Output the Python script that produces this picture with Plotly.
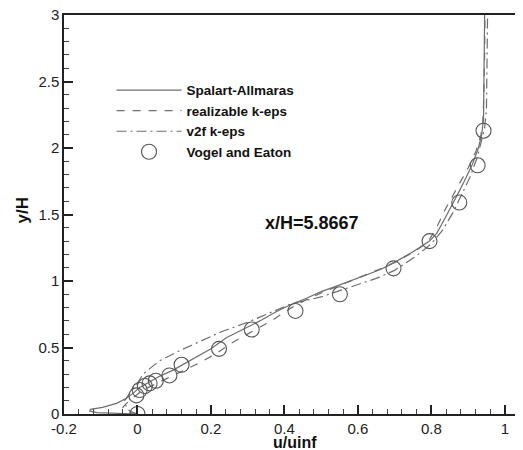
import plotly.graph_objects as go

# Spalart-Allmaras (solid)
sa_u = [0, -0.07, -0.11, -0.13, -0.128, -0.095, -0.057, -0.03, -0.012, 0.006, 0.034, 0.061,
        0.097, 0.133, 0.165, 0.2, 0.243, 0.29, 0.333, 0.375, 0.415, 0.46, 0.5, 0.54, 0.58,
        0.62, 0.66, 0.7, 0.75, 0.795, 0.815, 0.835, 0.855, 0.875, 0.895, 0.912, 0.928,
        0.937, 0.942, 0.943, 0.944, 0.945]
sa_y = [0, 0.005, 0.01, 0.022, 0.035, 0.05, 0.08, 0.118, 0.155, 0.2, 0.243, 0.285,
        0.33, 0.385, 0.435, 0.49, 0.575, 0.64, 0.7, 0.765, 0.82, 0.87, 0.92, 0.96, 1.0,
        1.04, 1.085, 1.14, 1.22, 1.30, 1.36, 1.46, 1.56, 1.67, 1.78, 1.88, 2.0,
        2.1, 2.22, 2.4, 2.7, 3.0]

# realizable k-eps (dashed)
rke_u = [0, -0.02, -0.035, -0.04, -0.03, -0.012, 0.005, 0.03, 0.06, 0.09, 0.12, 0.165,
         0.215, 0.26, 0.315, 0.37, 0.42, 0.46, 0.5, 0.54, 0.58, 0.62, 0.66, 0.7, 0.75,
         0.79, 0.812, 0.84, 0.87, 0.9, 0.922, 0.935, 0.94, 0.943, 0.945, 0.946]
rke_y = [0, 0.01, 0.03, 0.05, 0.08, 0.12, 0.16, 0.2, 0.24, 0.275, 0.315, 0.38,
         0.455, 0.54, 0.625, 0.71, 0.8, 0.86, 0.91, 0.955, 1.0, 1.04, 1.09, 1.14, 1.215,
         1.29, 1.39, 1.55, 1.7, 1.85, 1.98, 2.1, 2.2, 2.4, 2.7, 3.0]

# v2f k-eps (dash-dot)
v2f_u = [0, -0.02, -0.03, -0.035, -0.02, 0.0, 0.015, 0.06, 0.11, 0.17, 0.23, 0.3,
         0.36, 0.42, 0.5, 0.55, 0.6, 0.65, 0.7, 0.76, 0.8, 0.83, 0.86, 0.88, 0.905,
         0.925, 0.935, 0.945, 0.95, 0.952, 0.953]
v2f_y = [0, 0.02, 0.05, 0.1, 0.16, 0.23, 0.3, 0.4, 0.47, 0.545, 0.62, 0.69,
         0.76, 0.83, 0.88, 0.925, 0.97, 1.02, 1.08, 1.19, 1.28, 1.38, 1.52, 1.63, 1.78,
         1.93, 2.05, 2.15, 2.3, 2.6, 3.0]

# Vogel and Eaton (experiment)
exp_u = [0.0, -0.003, 0.006, 0.02, 0.033, 0.05, 0.087, 0.12, 0.222, 0.311, 0.43,
         0.551, 0.697, 0.795, 0.876, 0.926, 0.942]
exp_y = [0.0, 0.14, 0.18, 0.21, 0.23, 0.25, 0.29, 0.37, 0.49, 0.635, 0.775,
         0.90, 1.095, 1.30, 1.59, 1.87, 2.13]

x_ticks = [-0.2, 0, 0.2, 0.4, 0.6, 0.8, 1]
x_ticklabels = ["-0.2", "0", "0.2", "0.4", "0.6", "0.8", "1"]
y_ticks = [0, 0.5, 1, 1.5, 2, 2.5, 3]
y_ticklabels = ["0", "0.5", "1", "1.5", "2", "2.5", "3"]

FONT = "Liberation Sans, Arial, sans-serif"
LC = "#6e6e6e"

fig = go.Figure()
fig.add_trace(go.Scatter(x=sa_u, y=sa_y, mode="lines", name="Spalart-Allmaras",
                         line=dict(color=LC, width=1.2)))
fig.add_trace(go.Scatter(x=rke_u, y=rke_y, mode="lines", name="realizable k-eps",
                         line=dict(color=LC, width=1.2, dash="8px,8px")))
fig.add_trace(go.Scatter(x=v2f_u, y=v2f_y, mode="lines", name="v2f k-eps",
                         line=dict(color=LC, width=1.2, dash="10px,4px,2px,4px")))
fig.add_trace(go.Scatter(x=exp_u, y=exp_y, mode="markers", name="Vogel and Eaton",
                         marker=dict(symbol="circle-open", size=15, color="#555555",
                                     line=dict(width=1.1, color="#555555"))))

fig.add_annotation(x=0.475, y=1.436, xref="x", yref="y", text="<b>x/H=5.8667</b>",
                   showarrow=False, font=dict(family=FONT, size=18, color="#111"))
fig.add_annotation(x=0.505, y=-0.072, xref="paper", yref="paper", text="<b>u/uinf</b>",
                   showarrow=False, yanchor="middle",
                   font=dict(family=FONT, size=16, color="#111"))
fig.add_annotation(x=-0.09, y=0.51, xref="paper", yref="paper", text="<b>y/H</b>",
                   showarrow=False, textangle=-90, xanchor="center", yanchor="middle",
                   font=dict(family=FONT, size=17, color="#111"))

axis_common = dict(showgrid=False, zeroline=False, showline=True, linecolor="#222",
                   linewidth=1.5, mirror=True, ticks="inside", tickcolor="#222",
                   tickwidth=1.5, ticklen=9, automargin=False, ticklabeloverflow="allow",
                   tickfont=dict(family=FONT, size=15, color="#222"))

fig.update_xaxes(range=[-0.2, 1.044], tickvals=x_ticks, ticktext=x_ticklabels,
                 minor=dict(ticks="inside", ticklen=5, tickwidth=1, tickcolor="#444",
                            dtick=0.04, tick0=0),
                 **axis_common)
fig.update_yaxes(range=[0, 3], tickvals=y_ticks, ticktext=y_ticklabels,
                 minor=dict(ticks="inside", ticklen=5, tickwidth=1, tickcolor="#444",
                            dtick=0.1, tick0=0),
                 **axis_common)

# The page body has an 8px default margin, so the figure is sized/offset to compensate.
fig.update_layout(
    width=515, height=442,
    margin=dict(l=56, r=2, t=7, b=36),
    plot_bgcolor="white", paper_bgcolor="white",
    showlegend=True,
    legend=dict(x=0.104, y=0.85, xanchor="left", yanchor="top",
                bgcolor="rgba(0,0,0,0)", itemwidth=65,
                font=dict(family=FONT, size=13.5, color="#111", weight="bold"),
                tracegroupgap=0),
)

fig.write_html("out.html")
